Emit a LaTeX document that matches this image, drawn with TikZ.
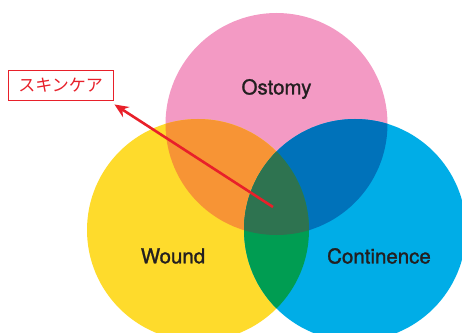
\documentclass[tikz,border=0pt]{standalone}
\usepackage{fontspec}
\setmainfont{TeX Gyre Heros}
\newfontfamily\setfont[FakeBold=1.2]{TeX Gyre Heros}
\newfontfamily\jpfont{Noto Sans CJK JP}
\usetikzlibrary{arrows.meta}

\definecolor{ostpink}{HTML}{F39AC4}
\definecolor{wndyellow}{HTML}{FEDB2C}
\definecolor{concyan}{HTML}{00ADE7}
\definecolor{mixorange}{HTML}{F79435}
\definecolor{mixblue}{HTML}{0072BA}
\definecolor{mixgreen}{HTML}{009D52}
\definecolor{mixcore}{HTML}{2E7350}
\definecolor{skinred}{HTML}{E8202A}
\definecolor{labelink}{HTML}{231F20}

\begin{document}
\begin{tikzpicture}[
  x=1pt, y=1pt,
  setname/.style={font=\setfont\fontsize{20.5}{22}\selectfont, text=labelink},
  callout/.style={draw=skinred, line width=0.9pt, fill=white,
    text=skinred, font=\jpfont\fontsize{17}{18}\selectfont,
    minimum width=105pt, minimum height=30pt, inner sep=0pt},
  pointer/.style={-{Stealth[length=14pt, width=12pt]}, line width=2.6pt, draw=skinred},
]

%% Canvas
\clip (0,0) rectangle (462,332);

%% Circles
\def\ostomy{(276.5,208) circle (111pt)}
\def\wound{(198,102) circle (111pt)}
\def\contin{(355,102) circle (111pt)}
\fill[ostpink] \ostomy;
\fill[wndyellow] \wound;
\fill[concyan] \contin;

%% Overlaps
\begin{scope}\clip \wound; \fill[mixorange] \ostomy; \end{scope}
\begin{scope}\clip \contin; \fill[mixblue] \ostomy; \end{scope}
\begin{scope}\clip \wound; \fill[mixgreen] \contin; \end{scope}
\begin{scope}\clip \wound; \clip \contin; \fill[mixcore] \ostomy; \end{scope}

%% Set names
\node[setname] (ost) at (276.5,243) {Ostomy};
\node[setname] (wnd) at (173,76) {Wound};
\node[setname] (con) at (379,76) {Continence};

%% Callout
\node[callout] (skin) at (60.5,247) {スキンケア};
\coordinate (core) at (273,125);
\draw[pointer] (core) -- ([xshift=1pt,yshift=-4pt]skin.south east);

\end{tikzpicture}
\end{document}
